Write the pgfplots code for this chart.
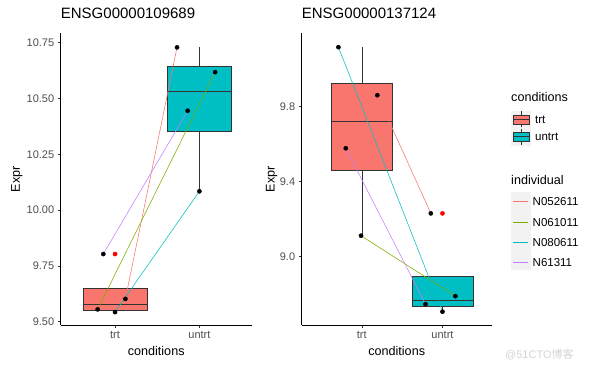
\documentclass[border=0pt]{standalone}
\usepackage{fontspec}
\setmainfont{Liberation Sans}
\newfontfamily\cjk{Noto Sans CJK SC}
\usepackage{pgfplots}
\pgfplotsset{compat=1.18}
\definecolor{cTrt}{HTML}{F8766D}
\definecolor{cUn}{HTML}{00BFC4}
\definecolor{cA}{HTML}{F8766D}
\definecolor{cB}{HTML}{7CAE00}
\definecolor{cC}{HTML}{00BFC4}
\definecolor{cD}{HTML}{C77CFF}
\definecolor{tickgray}{HTML}{4D4D4D}
\definecolor{boxline}{HTML}{333333}
\definecolor{keybg}{HTML}{F2F2F2}
\definecolor{wm}{HTML}{D4D4D4}
\pgfplotsset{
  panel/.style={
    scale only axis,
    anchor=south west,
    axis x line*=bottom, axis y line*=left,
    axis line style={black, line width=0.5pt},
    xtick={1,2}, xticklabels={trt,untrt},
    tick align=outside,
    major tick length=3pt,
    tick style={boxline, line width=0.5pt},
    ticklabel style={font=\fontsize{11}{13}\selectfont, text=tickgray},
    /pgf/number format/assume math mode=true,
    xlabel={conditions}, ylabel={Expr},
    label style={font=\fontsize{12.6}{14}\selectfont},
    xlabel style={at={(axis description cs:0.5,0)}, anchor=center, yshift=-26pt},
    title style={at={(axis description cs:0,1)}, anchor=base west, yshift=8.3pt, font=\fontsize{15}{17}\selectfont, inner sep=0pt},
    clip=false,
  },
  bx/.style={fill=#1, draw=boxline, line width=0.5pt, mark=none},
  wh/.style={boxline, line width=0.5pt, mark=none},
  med/.style={boxline, line width=1.3pt, mark=none},
  ind/.style={#1, line width=0.55pt, mark=none},
  pts/.style={only marks, mark=*, mark size=2.1pt, black},
  outl/.style={only marks, mark=*, mark size=2.1pt, red},
}
\begin{document}
\begin{tikzpicture}
\path[use as bounding box] (0,0) rectangle (600pt,370pt);

% ---------------- left panel ----------------
\begin{axis}[panel,
  at={(60.7pt,45pt)}, width=191pt, height=291.7pt,
  xmin=0.356, xmax=2.62, ymin=9.485, ymax=10.792,
  ytick={9.5,9.75,10,10.25,10.5,10.75},
  yticklabel style={/pgf/number format/.cd, fixed, fixed zerofill, precision=2},
  ylabel style={at={(axis description cs:-0.229,0.5)}, anchor=center},
  title={ENSG00000109689}]
% trt box: whisker 9.541..9.651, Q1 9.5508, median 9.577, Q3 9.651
\addplot[wh] coordinates {(1,9.541) (1,9.5508)};
\addplot[bx=cTrt] coordinates {(0.62,9.5508) (1.38,9.5508) (1.38,9.651) (0.62,9.651)} -- cycle;
\addplot[med] coordinates {(0.62,9.577) (1.38,9.577)};
% untrt box: whisker 10.084..10.729, Q1 10.355, median 10.532, Q3 10.645
\addplot[wh] coordinates {(2,10.084) (2,10.729)};
\addplot[bx=cUn] coordinates {(1.62,10.355) (2.38,10.355) (2.38,10.645) (1.62,10.645)} -- cycle;
\addplot[med] coordinates {(1.62,10.532) (2.38,10.532)};
\addplot[outl] coordinates {(1,9.803)};
\addplot[ind=cA] coordinates {(1.123,9.602) (1.735,10.729)};
\addplot[ind=cB] coordinates {(0.794,9.555) (2.187,10.618)};
\addplot[ind=cC] coordinates {(1.0,9.543) (2.0,10.084)};
\addplot[ind=cD] coordinates {(0.861,9.803) (1.861,10.445)};
\addplot[pts] coordinates {(0.794,9.555) (1.0,9.543) (1.123,9.602) (0.861,9.803)
  (1.735,10.729) (2.187,10.618) (1.861,10.445) (2.0,10.084)};
\end{axis}

% ---------------- right panel ----------------
\begin{axis}[panel,
  at={(301.7pt,45pt)}, width=190pt, height=291.7pt,
  xmin=0.256, xmax=2.61, ymin=8.636, ymax=10.191,
  ytick={9.0,9.4,9.8},
  yticklabel style={/pgf/number format/.cd, fixed, fixed zerofill, precision=1},
  ylabel style={at={(axis description cs:-0.159,0.5)}, anchor=center},
  title={ENSG00000137124}]
% trt box: whisker 9.112..10.117, Q1 9.4615, median 9.72, Q3 9.925
\addplot[wh] coordinates {(1,9.112) (1,10.117)};
\addplot[bx=cTrt] coordinates {(0.62,9.4615) (1.38,9.4615) (1.38,9.925) (0.62,9.925)} -- cycle;
\addplot[med] coordinates {(0.62,9.72) (1.38,9.72)};
% untrt box: whisker 8.707..8.897, Q1 8.737, median 8.767, Q3 8.897
\addplot[wh] coordinates {(2,8.707) (2,8.737)};
\addplot[bx=cUn] coordinates {(1.62,8.737) (2.38,8.737) (2.38,8.897) (1.62,8.897)} -- cycle;
\addplot[med] coordinates {(1.62,8.767) (2.38,8.767)};
\addplot[outl] coordinates {(2,9.231)};
\addplot[ind=cA] coordinates {(1.193,9.861) (1.856,9.231)};
\addplot[ind=cB] coordinates {(0.991,9.112) (2.16,8.790)};
\addplot[ind=cC] coordinates {(0.711,10.117) (2.0,8.707)};
\addplot[ind=cD] coordinates {(0.802,9.578) (1.79,8.747)};
\addplot[pts] coordinates {(0.711,10.117) (1.193,9.861) (0.802,9.578) (0.991,9.112)
  (1.856,9.231) (2.16,8.790) (1.79,8.747) (2.0,8.707)};
\end{axis}

% ---------------- legends ----------------
\node[anchor=west, inner sep=0pt, font=\fontsize{12.6}{14}\selectfont] at (511pt,272.7pt) {conditions};
\fill[keybg] (510.5pt,224.2pt) rectangle (531pt,259.2pt);
\foreach \yc/\col/\lab in {250.55/cTrt/trt, 233.2/cUn/untrt}{
  \draw[boxline, line width=0.5pt] (521.3pt,\yc pt-8pt) -- (521.3pt,\yc pt+8pt);
  \draw[boxline, line width=0.5pt, fill=\col] (513.3pt,\yc pt-4.5pt) rectangle (529.3pt,\yc pt+4.5pt);
  \draw[boxline, line width=0.9pt] (513.3pt,\yc pt) -- (529.3pt,\yc pt);
  \node[anchor=west, inner sep=0pt, font=\fontsize{11.5}{13}\selectfont] at (535pt,\yc pt) {\lab};
}
\node[anchor=west, inner sep=0pt, font=\fontsize{12.6}{14}\selectfont] at (511pt,190pt) {individual};
\fill[keybg] (510.7pt,100pt) rectangle (531pt,178.3pt);
\draw[draw=cA, line width=0.8pt] (513.3pt,168.3pt) -- (528.3pt,168.3pt);
\draw[draw=cB, line width=0.8pt] (513.3pt,147.7pt) -- (528.3pt,147.7pt);
\draw[draw=cC, line width=0.8pt] (513.3pt,127.7pt) -- (528.3pt,127.7pt);
\draw[draw=cD, line width=0.8pt] (513.3pt,107.7pt) -- (528.3pt,107.7pt);
\foreach \yc/\lab in {168.3/N052611, 147.7/N061011, 127.7/N080611, 107.7/N61311}{
  \node[anchor=west, inner sep=0pt, font=\fontsize{11.5}{13}\selectfont] at (532.5pt,\yc pt) {\lab};
}
\node[anchor=west, inner sep=0pt, text=wm, font=\fontsize{11}{13}\selectfont] at (505pt,15pt) {@51CTO{\cjk 博客}};
\end{tikzpicture}
\end{document}
